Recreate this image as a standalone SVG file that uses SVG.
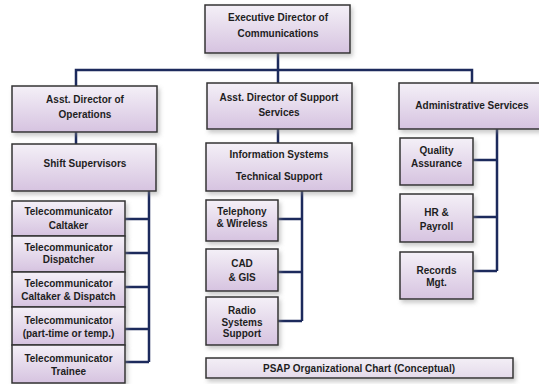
<svg xmlns="http://www.w3.org/2000/svg" width="539" height="384" viewBox="0 0 539 384">
<defs>
<linearGradient id="g" x1="0" y1="0" x2="0" y2="1">
<stop offset="0" stop-color="#f4f0f7"/>
<stop offset="1" stop-color="#d6c3e0"/>
</linearGradient>
<linearGradient id="g2" x1="0" y1="0" x2="0" y2="1">
<stop offset="0" stop-color="#f3eff6"/>
<stop offset="1" stop-color="#e4daea"/>
</linearGradient>
<filter id="sh" x="-10%" y="-10%" width="130%" height="140%">
<feDropShadow dx="2" dy="3" stdDeviation="2" flood-color="#888" flood-opacity="0.45"/>
</filter>
</defs>
<style>
.b{fill:url(#g);stroke:#333;stroke-width:1.5;filter:url(#sh)}
.p{fill:url(#g2);stroke:#333;stroke-width:1.5;filter:url(#sh)}
text{font-family:"Liberation Sans",Arial,sans-serif;font-size:10px;font-weight:bold;fill:#1e1e1e;text-anchor:middle}
.c{fill:none;stroke:#1c2a5c;stroke-width:2.5}
</style>
<rect width="539" height="384" fill="#ffffff"/>
<g id="connectors">
<path class="c" d="M278 53V83M76 86V70H472V83M76 132V144M278 129V143"/>
<path class="c" d="M149 191V362M125 219H149M125 253H149M125 287H149M125 329H149M125 362H149"/>
<path class="c" d="M302 191V321M278 219H302M278 272H302M278 321H302"/>
<path class="c" d="M497 129V271M473 160H497M473 217H497M473 271H497"/>
</g>
<g id="exec"><rect class="b" x="205" y="5" width="145" height="48"/><text x="278" y="21">Executive Director of</text><text x="278" y="37">Communications</text></g>
<g id="ops"><rect class="b" x="12" y="86" width="145" height="46"/><text x="85" y="103">Asst. Director of</text><text x="85" y="118">Operations</text></g>
<g id="support"><rect class="b" x="207" y="83" width="145" height="46"/><text x="279" y="101">Asst. Director of Support</text><text x="279" y="116">Services</text></g>
<g id="admin"><rect class="b" x="399" y="83" width="146" height="46"/><text x="472" y="109">Administrative Services</text></g>
<g id="shift"><rect class="b" x="12" y="144" width="144" height="47"/><text x="85" y="167">Shift Supervisors</text></g>
<g id="caltaker"><rect class="b" x="12" y="201" width="113" height="35"/><text x="68.5" y="215">Telecommunicator</text><text x="68.5" y="229">Caltaker</text></g>
<g id="dispatcher"><rect class="b" x="12" y="236" width="113" height="36"/><text x="68.5" y="251">Telecommunicator</text><text x="68.5" y="263">Dispatcher</text></g>
<g id="calldispatch"><rect class="b" x="12" y="272" width="113" height="35"/><text x="68.5" y="287">Telecommunicator</text><text x="68.5" y="300">Caltaker &amp; Dispatch</text></g>
<g id="parttime"><rect class="b" x="12" y="307" width="113" height="38"/><text x="68.5" y="324">Telecommunicator</text><text x="68.5" y="337">(part-time or temp.)</text></g>
<g id="trainee"><rect class="b" x="12" y="345" width="113" height="38"/><text x="68.5" y="362">Telecommunicator</text><text x="68.5" y="375">Trainee</text></g>
<g id="infosys"><rect class="b" x="206" y="143" width="146" height="48"/><text x="279" y="158">Information Systems</text><text x="279" y="180">Technical Support</text></g>
<g id="telephony"><rect class="b" x="206" y="200" width="72" height="41"/><text x="242" y="215">Telephony</text><text x="242" y="227">&amp; Wireless</text></g>
<g id="cad"><rect class="b" x="206" y="249" width="72" height="42"/><text x="242" y="267">CAD</text><text x="242" y="281">&amp; GIS</text></g>
<g id="radio"><rect class="b" x="206" y="297" width="72" height="48"/><text x="242" y="314">Radio</text><text x="242" y="326">Systems</text><text x="242" y="337">Support</text></g>
<g id="quality"><rect class="b" x="400" y="138" width="73" height="47"/><text x="436.5" y="154">Quality</text><text x="436.5" y="167">Assurance</text></g>
<g id="hr"><rect class="b" x="400" y="194" width="73" height="48"/><text x="436.5" y="216">HR &amp;</text><text x="436.5" y="230">Payroll</text></g>
<g id="records"><rect class="b" x="400" y="252" width="73" height="47"/><text x="436.5" y="274">Records</text><text x="436.5" y="286">Mgt.</text></g>
<g id="psap"><rect class="p" x="206" y="358" width="307" height="20"/><text x="359" y="372">PSAP Organizational Chart (Conceptual)</text></g>
</svg>
